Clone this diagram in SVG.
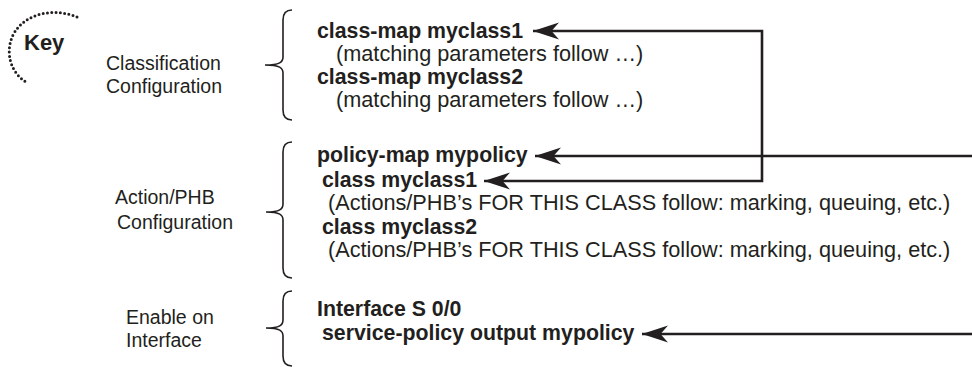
<svg xmlns="http://www.w3.org/2000/svg" width="972" height="367" viewBox="0 0 972 367">
<defs>
<style>
text{font-family:"Liberation Sans",Arial,Helvetica,sans-serif;fill:#231f20}
.b{font-weight:bold;font-size:21.3px}
.r{font-size:21.7px}
.lbl{font-size:19.5px}
.brace{fill:none;stroke:#231f20;stroke-width:1.6}
.conn{fill:none;stroke:#231f20;stroke-width:2.6}
.dots{fill:none;stroke:#231f20;stroke-width:3;stroke-linecap:round;stroke-dasharray:0 4.3}
</style>
<marker id="ah" viewBox="0 0 26 18" refX="26" refY="9" markerWidth="26" markerHeight="18" markerUnits="userSpaceOnUse" orient="auto-start-reverse">
<path d="M26,9 L0,0.5 L7.5,9 L0,17.5 Z" fill="#231f20"/>
</marker>
</defs>
<rect width="972" height="367" fill="#fff"/>

<g id="key">
<path class="dots" d="M77,17 C55,8 25,12 13,35 C5,52 10,72 26,82"/>
<text class="b" x="24" y="50" style="font-size:22px">Key</text>
</g>

<g id="classification-label">
<text class="lbl" x="106" y="70">Classification</text>
<text class="lbl" x="106" y="93">Configuration</text>
</g>
<g id="action-label">
<text class="lbl" x="115" y="204">Action/PHB</text>
<text class="lbl" x="117" y="229">Configuration</text>
</g>
<g id="enable-label">
<text class="lbl" x="126" y="324">Enable on</text>
<text class="lbl" x="126" y="347">Interface</text>
</g>

<g id="brace-classification">
<path class="brace" d="M292,10 C286,10 283,13 283,20 L283,57 C283,62 280,65 265,65 C280,65 283,68 283,73 L283,110 C283,117 286,120 292,120"/>
</g>
<g id="brace-action">
<path class="brace" d="M292,142 C286,142 283,145 283,152 L283,204 C283,209 280,212 266,212 C280,212 283,215 283,220 L283,268 C283,275 286,278 292,278"/>
</g>
<g id="brace-enable">
<path class="brace" d="M292,291 C286,291 283,294 283,301 L283,320 C283,325 280,328 266,328 C280,328 283,331 283,336 L283,356 C283,363 286,366 292,366"/>
</g>

<g id="classification-config">
<text class="b" x="317" y="38">class-map myclass1</text>
<text class="r" x="336" y="61">(matching parameters follow …)</text>
<text class="b" x="317" y="84">class-map myclass2</text>
<text class="r" x="336" y="107">(matching parameters follow …)</text>
</g>

<g id="action-config">
<text class="b" x="317" y="162">policy-map mypolicy</text>
<text class="b" x="322" y="187">class myclass1</text>
<text class="r" x="328" y="210">(Actions/PHB’s FOR THIS CLASS follow: marking, queuing, etc.)</text>
<text class="b" x="322" y="234">class myclass2</text>
<text class="r" x="328" y="257">(Actions/PHB’s FOR THIS CLASS follow: marking, queuing, etc.)</text>
</g>

<g id="interface-config">
<text class="b" x="317" y="316">Interface S 0/0</text>
<text class="b" x="322" y="340">service-policy output mypolicy</text>
</g>

<g id="connectors">
<path class="conn" d="M533,31 L762,31 L762,181 L484,181" marker-start="url(#ah)" marker-end="url(#ah)"/>
<path class="conn" d="M972,156 L535,156" marker-end="url(#ah)"/>
<path class="conn" d="M972,334 L642,334" marker-end="url(#ah)"/>
</g>
</svg>
